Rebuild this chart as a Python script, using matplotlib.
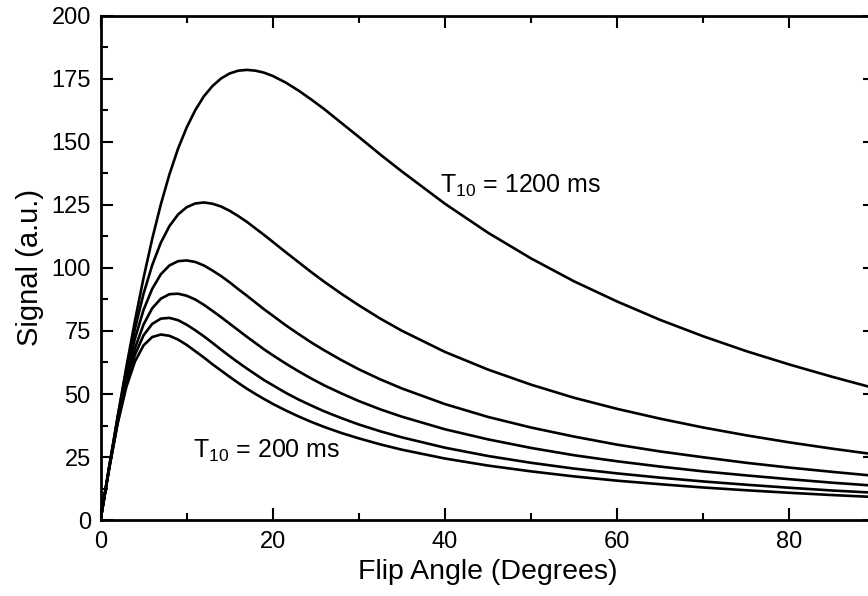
import matplotlib
matplotlib.use("Agg")
import matplotlib.pyplot as plt
from matplotlib.ticker import MultipleLocator

plt.rcParams['font.family'] = ['Liberation Sans', 'DejaVu Sans']
plt.rcParams['mathtext.default'] = 'regular'

# Flip angle samples (degrees)
flip_angle = [0, 1, 2, 3, 4, 5, 6, 7, 8, 9, 10, 11, 12, 13, 14, 15, 16, 17, 18, 19, 20,
              21.5, 23, 24.5, 26, 28, 30, 32.5, 35, 40, 45, 50, 55, 60, 65, 70, 75,
              80, 85, 90]

# Signal (a.u.) for each T10 curve
signal_t10_1200 = [0, 20.8, 41.2, 60.7, 79.1, 96.1, 111.5, 125.2, 137.1, 147.3, 155.7,
                   162.6, 168.1, 172.2, 175.2, 177.2, 178.3, 178.6, 178.3, 177.5, 176.2,
                   173.6, 170.4, 166.8, 163.0, 157.5, 152.0, 145.0, 138.3,
                   125.5, 114.0, 103.8, 94.7, 86.7, 79.4, 72.9, 67.0, 61.7, 56.8, 52.2]
signal_t10_1000 = [0, 21.0, 41.1, 59.6, 75.9, 89.8, 101.1, 110.0, 116.6, 121.2, 124.1,
                   125.6, 126.0, 125.5, 124.4, 122.7, 120.6, 118.3, 115.7, 113.1, 110.4,
                   106.3, 102.3, 98.3, 94.5, 89.7, 85.2, 79.9, 75.1,
                   66.7, 59.7, 53.7, 48.5, 44.1, 40.2, 36.7, 33.6, 30.8, 28.3, 26.0]
signal_t10_800 = [0, 20.8, 40.3, 57.6, 72.0, 83.4, 91.7, 97.5, 101.0, 102.7, 103.0,
                  102.4, 101.0, 99.0, 96.8, 94.3, 91.6, 89.0, 86.3, 83.6, 81.1,
                  77.3, 73.8, 70.4, 67.3, 63.4, 59.8, 55.8, 52.2,
                  46.0, 40.9, 36.7, 33.1, 29.9, 27.2, 24.9, 22.7, 20.8, 19.1, 17.5]
signal_t10_600 = [0, 20.4, 39.2, 55.3, 68.2, 77.6, 84.0, 87.8, 89.6, 89.8, 89.0,
                  87.5, 85.4, 83.0, 80.5, 77.9, 75.3, 72.7, 70.2, 67.7, 65.4,
                  62.1, 59.0, 56.1, 53.4, 50.2, 47.2, 43.9, 41.0,
                  36.0, 32.0, 28.6, 25.7, 23.3, 21.2, 19.3, 17.7, 16.2, 14.8, 13.6]
signal_t10_400 = [0, 20.5, 39.0, 54.2, 65.6, 73.3, 77.8, 79.9, 80.2, 79.3, 77.5,
                  75.3, 72.9, 70.3, 67.6, 65.0, 62.5, 60.1, 57.8, 55.5, 53.5,
                  50.5, 47.8, 45.4, 43.1, 40.4, 37.9, 35.2, 32.8,
                  28.7, 25.4, 22.7, 20.4, 18.5, 16.8, 15.3, 14.0, 12.8, 11.7, 10.8]
signal_t10_200 = [0, 20.3, 38.4, 52.8, 62.9, 69.3, 72.6, 73.6, 73.1, 71.6, 69.5,
                  67.0, 64.5, 61.8, 59.3, 56.8, 54.4, 52.1, 50.0, 48.0, 46.1,
                  43.5, 41.1, 38.9, 36.9, 34.5, 32.4, 30.0, 27.9,
                  24.4, 21.6, 19.3, 17.3, 15.6, 14.2, 12.9, 11.8, 10.8, 9.9, 9.1]

curves = [signal_t10_1200, signal_t10_1000, signal_t10_800,
          signal_t10_600, signal_t10_400, signal_t10_200]

x_ticks = [0, 20, 40, 60, 80]
y_ticks = [0, 25, 50, 75, 100, 125, 150, 175, 200]

fig = plt.figure(figsize=(8.68, 5.96), dpi=100)
ax = fig.add_axes([0.1158, 0.1275, 0.8928, 0.8457])

for s in curves:
    ax.plot(flip_angle, s, color='black', lw=1.9, solid_capstyle='round',
            solid_joinstyle='round')

ax.set_xlim(0, 90)
ax.set_ylim(0, 200)
ax.set_xticks(x_ticks)
ax.set_yticks(y_ticks)
ax.xaxis.set_minor_locator(MultipleLocator(10))
ax.yaxis.set_minor_locator(MultipleLocator(12.5))

ax.tick_params(which='both', direction='in', top=True, right=True,
               width=1.5, color='black')
ax.tick_params(which='major', length=8.6)
ax.tick_params(which='minor', length=5)
ax.tick_params(axis='x', which='major', labelsize=17, pad=8)
ax.tick_params(axis='y', which='major', labelsize=17, pad=7)

for sp in ax.spines.values():
    sp.set_linewidth(2.0)

ax.set_xlabel('Flip Angle (Degrees)', fontsize=20.5, labelpad=4)
ax.set_ylabel('Signal (a.u.)', fontsize=21, labelpad=5)

ax.text(39.4, 130, 'T$_{10}$ = 1200 ms', fontsize=18, ha='left', va='baseline')
ax.text(10.7, 24.6, 'T$_{10}$ = 200 ms', fontsize=18, ha='left', va='baseline')

fig.savefig('out.png', dpi=100)
